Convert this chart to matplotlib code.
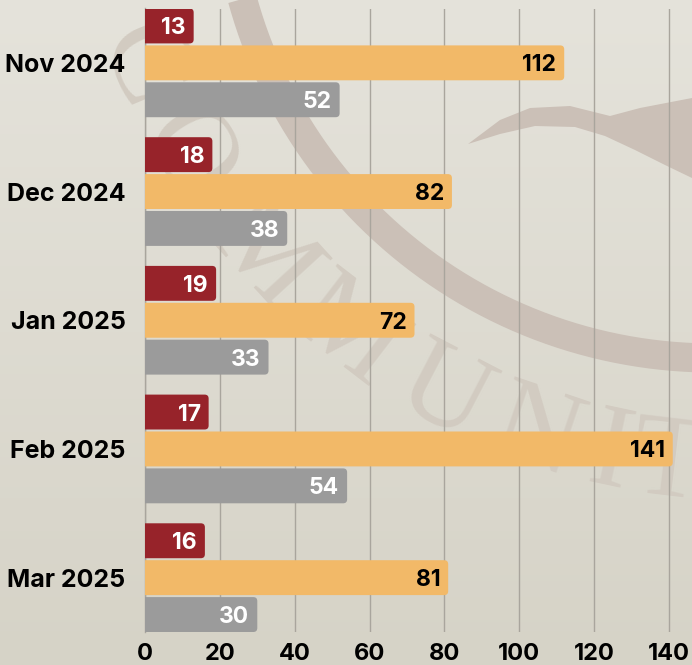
import numpy as np
import matplotlib
matplotlib.use("Agg")
import matplotlib.pyplot as plt
from matplotlib.patches import FancyBboxPatch

# ---- data ----
months = ["Nov 2024", "Dec 2024", "Jan 2025", "Feb 2025", "Mar 2025"]
series_red = [13, 18, 19, 17, 16]
series_orange = [112, 82, 72, 141, 81]
series_gray = [52, 38, 33, 54, 30]
xticks = [0, 20, 40, 60, 80, 100, 120, 140]

RED = "#97232A"
ORANGE = "#F2B968"
GRAY = "#9B9B9B"
FONT = ["Inter", "DejaVu Sans"]

W, H = 692, 665
fig = plt.figure(figsize=(W / 100, H / 100), dpi=100)

# ---- background + watermark ----
bg = fig.add_axes([0, 0, 1, 1])
bg.set_zorder(0)
grad = np.linspace(0, 1, 256).reshape(-1, 1)
top = np.array([229, 227, 219]) / 255
bot = np.array([214, 211, 199]) / 255
img = top + (bot - top) * grad[..., None]
img = np.repeat(img, 2, axis=1)
bg.imshow(img, extent=(0, W, H, 0), aspect="auto", interpolation="bicubic")
bg.set_xlim(0, W)
bg.set_ylim(H, 0)
bg.axis("off")

wm = "#CBC0B7"
# big swoosh arc
cx, cy, r = 713, -130, 488
t = np.linspace(0, 2 * np.pi, 800)
bg.plot(cx + r * np.cos(t), cy + r * np.sin(t), color=wm, lw=21, solid_capstyle="butt")
# wave
wave_x = [468, 500, 530, 570, 610, 640, 692, 692, 665, 635, 605, 575, 535, 500, 468]
wave_y = [144, 120, 108, 106, 116, 108, 98, 178, 165, 150, 136, 127, 126, 134, 144]
bg.fill(wave_x, wave_y, color=wm, lw=0)
# COMMUNITY letters along arc
lcx, lcy, lr = 747, -189, 660
letters = ["C", "O", "M", "M", "U", "N", "I", "T", "Y"]
angles = [157.2, 148.4, 137.5, 127.5, 117.5, 108.7, 102.0, 96.8, 89.0]
for ch, a in zip(letters, angles):
    x = lcx + lr * np.cos(np.radians(a))
    y = lcy + lr * np.sin(np.radians(a))
    rot = np.degrees(np.arctan2(-(lcx - x), (y - lcy)))
    bg.text(x, y, ch, rotation=rot, rotation_mode="anchor", ha="center", va="center",
            fontsize=86, family=["Liberation Serif", "DejaVu Serif"], color="#D2CBC1")

# ---- main axes ----
x0, x1 = 145, 692
ax = fig.add_axes([x0 / W, (H - 632) / H, (x1 - x0) / W, 623.5 / H])
ax.set_zorder(1)
ax.patch.set_visible(False)

n = len(months)
y = np.arange(n)
off = 37 / 129.05
h = 35 / 129.05
px_per_x = 3.743
ax.set_xlim(0, (x1 - x0) / px_per_x)
ax.set_ylim(n - 1 + off + h / 2, -off - h / 2)

rad_px = 4
for vals, dy, col, tcol in [(series_red, -off, RED, "white"),
                            (series_orange, 0, ORANGE, "black"),
                            (series_gray, off, GRAY, "white")]:
    bars = ax.barh(y + dy, vals, height=h, color=col)
    for b, v in zip(bars, vals):
        b.set_visible(False)
        bx, by = b.get_x(), b.get_y()
        bw, bh = b.get_width(), b.get_height()
        rx = rad_px / px_per_x
        p = FancyBboxPatch((bx - 3, by), bw + 3, bh,
                           boxstyle=f"round,pad=0,rounding_size={rx}",
                           mutation_aspect=(1 / 129.05) / (1 / px_per_x),
                           facecolor=col, edgecolor="none", zorder=3)
        ax.add_patch(p)
        ax.annotate(str(v), xy=(bx + bw, by + bh / 2), xytext=(-8, 0),
                    textcoords="offset pixels", ha="right", va="center_baseline",
                    fontsize=16.5, fontweight="bold", family=FONT, color=tcol, zorder=4)

ax.set_yticks(y)
ax.set_yticklabels(months, fontsize=18, fontweight="bold", family=FONT, color="black")
ax.set_xticks(xticks)
ax.set_xticklabels([str(v) for v in xticks], fontsize=17, fontweight="bold", family=FONT,
                   color="black")
ax.tick_params(axis="both", length=0)
ax.tick_params(axis="y", pad=14)
ax.tick_params(axis="x", pad=8)
ax.set_axisbelow(True)
ax.grid(axis="x", color="#A9A59D", lw=1)
for s in ["top", "right", "bottom"]:
    ax.spines[s].set_visible(False)
ax.spines["left"].set_color("#A9A59D")
ax.spines["left"].set_linewidth(1)

fig.savefig("out.png", dpi=100)
